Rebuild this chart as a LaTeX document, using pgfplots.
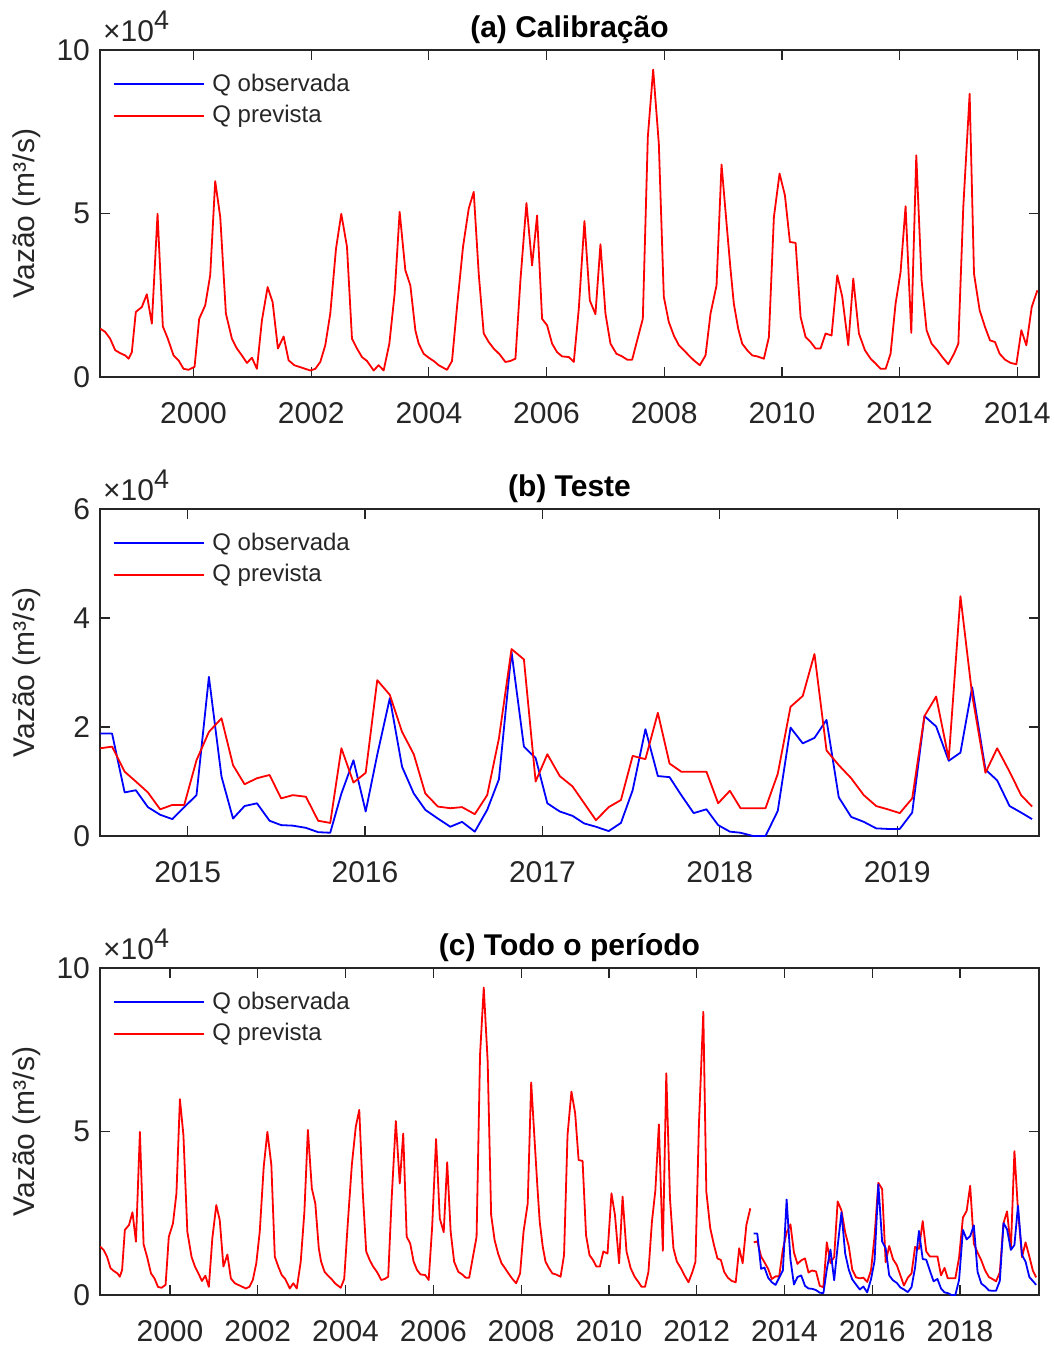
\documentclass[border=0pt]{standalone}
\usepackage{pgfplots}
\pgfplotsset{compat=1.18}
\usepackage{pgfplotstable}
\usepackage{fontspec}
\setmainfont{Liberation Sans}
\definecolor{axgray}{RGB}{38,38,38}

\pgfplotstableread{
t q
1998.413 14800
1998.498 13800
1998.583 11700
1998.668 8200
1998.753 7300
1998.838 6600
1998.895 5600
1998.951 7600
1999.019 19900
1999.121 21400
1999.206 25300
1999.291 16300
1999.388 49900
1999.478 15500
1999.563 11700
1999.660 6600
1999.745 5100
1999.830 2500
1999.915 2200
2000.017 3100
2000.096 17800
2000.198 21900
2000.283 31100
2000.368 59900
2000.454 48900
2000.550 19400
2000.652 11700
2000.737 8700
2000.822 6600
2000.907 4300
2000.992 5900
2001.077 2500
2001.162 17300
2001.259 27500
2001.344 22900
2001.434 8700
2001.531 12400
2001.616 5100
2001.712 3600
2001.797 3100
2001.899 2500
2001.984 2000
2002.069 2500
2002.154 4600
2002.239 9700
2002.324 19400
2002.421 39200
2002.511 49900
2002.608 39800
2002.693 11700
2002.778 8700
2002.863 6100
2002.948 4900
2003.061 2000
2003.146 3600
2003.231 2000
2003.328 10200
2003.418 25500
2003.503 50500
2003.600 32600
2003.685 28000
2003.770 14300
2003.827 10200
2003.912 7100
2003.997 5900
2004.082 4900
2004.167 3600
2004.308 2200
2004.393 4900
2004.478 21400
2004.580 39800
2004.677 51500
2004.762 56600
2004.847 31600
2004.932 13300
2005.017 10700
2005.102 8700
2005.204 6900
2005.300 4600
2005.385 4900
2005.471 5600
2005.556 29600
2005.658 53200
2005.754 34100
2005.839 49400
2005.924 17800
2006.009 15800
2006.094 10200
2006.179 7600
2006.264 6300
2006.378 6100
2006.463 4600
2006.548 20900
2006.644 47700
2006.735 23400
2006.831 19200
2006.916 40600
2007.001 19400
2007.086 10200
2007.188 7100
2007.285 6300
2007.370 5300
2007.455 5300
2007.540 11200
2007.636 17800
2007.721 73400
2007.812 94000
2007.908 71400
2007.993 24500
2008.078 16800
2008.163 12700
2008.248 9700
2008.333 8200
2008.418 6600
2008.503 5100
2008.605 3600
2008.702 6600
2008.787 19400
2008.889 28000
2008.974 65000
2009.059 47000
2009.126 33100
2009.183 22400
2009.257 14800
2009.325 10200
2009.410 8200
2009.495 6600
2009.580 6300
2009.694 5600
2009.779 12200
2009.864 48900
2009.960 62200
2010.051 55600
2010.136 41300
2010.233 41000
2010.318 18300
2010.403 12200
2010.488 10700
2010.572 8700
2010.657 8700
2010.742 13300
2010.844 12700
2010.941 31100
2011.026 24500
2011.128 9700
2011.213 30100
2011.309 13300
2011.411 8200
2011.508 5600
2011.593 4100
2011.678 2500
2011.763 2500
2011.847 7100
2011.932 22400
2012.017 32100
2012.102 52200
2012.199 13500
2012.284 67800
2012.374 29600
2012.459 14300
2012.544 10200
2012.641 8200
2012.726 6100
2012.828 3900
2012.925 7100
2012.999 10200
2013.083 52000
2013.191 86600
2013.265 31600
2013.361 20400
2013.452 15300
2013.537 11200
2013.622 10700
2013.701 7100
2013.792 5300
2013.888 4300
2013.985 3900
2014.070 14300
2014.155 9700
2014.246 21400
2014.342 26500
}\calib

\pgfplotstableread{
t obs prev
2014.508 18800 16100
2014.574 18800 16400
2014.645 8000 11800
2014.708 8400 10000
2014.776 5300 8000
2014.845 3900 4900
2014.914 3100 5700
2014.981 5300 5700
2015.050 7500 13900
2015.120 29200 19100
2015.191 10900 21600
2015.256 3200 13000
2015.321 5500 9500
2015.391 6000 10600
2015.462 2800 11200
2015.527 2000 6900
2015.593 1900 7500
2015.667 1500 7200
2015.736 700 2800
2015.804 600 2400
2015.867 7800 16100
2015.935 13900 9800
2016.004 4500 11600
2016.069 14900 28600
2016.140 25300 25900
2016.209 12700 19100
2016.275 7800 15000
2016.340 4800 7800
2016.411 3200 5400
2016.481 1700 5100
2016.547 2600 5300
2016.619 800 4000
2016.689 4800 7500
2016.755 10400 17900
2016.826 33800 34300
2016.896 16400 32400
2016.962 14300 10000
2017.028 6000 15000
2017.098 4500 11000
2017.170 3700 9100
2017.236 2300 6000
2017.302 1700 2900
2017.374 900 5300
2017.443 2400 6600
2017.509 8400 14700
2017.581 19600 14100
2017.651 11000 22600
2017.717 10800 13300
2017.783 7500 11800
2017.853 4200 11800
2017.925 4900 11800
2017.991 2000 6000
2018.057 800 8300
2018.117 600 5100
2018.188 0 5100
2018.258 0 5100
2018.327 4600 11400
2018.399 19900 23700
2018.468 17000 25700
2018.534 18000 33400
2018.602 21300 15700
2018.671 7100 13000
2018.741 3500 10600
2018.812 2600 7500
2018.882 1400 5500
2018.947 1300 4900
2019.015 1300 4200
2019.085 4300 6900
2019.154 22000 22000
2019.220 20100 25600
2019.291 13800 14100
2019.357 15300 44000
2019.423 27300 25900
2019.498 12200 11600
2019.564 10200 16100
2019.634 5500 11800
2019.699 4300 7500
2019.761 3100 5400
}\teste

\newcommand{\tfont}{\fontsize{15}{18}\selectfont}
\newcommand{\escala}{\node[anchor=base west, inner sep=0pt, font=\tfont, text=axgray] at (rel axis cs:0.003,1.0245) {×10\raisebox{0.8ex}{\fontsize{13.5}{13.5}\selectfont 4}};}

\pgfplotsset{
  painel/.style={
    scale only axis, width=469.5pt, height=163.5pt,
    axis line style={draw=axgray, line width=0.6pt},
    every tick/.style={draw=axgray, line width=0.6pt},
    tick align=inside, major tick length=5pt,
    ticklabel style={font=\tfont, text=axgray},
    xticklabel style={yshift=-9pt},
    yticklabel style={xshift=-1.5pt},
    /pgf/number format/1000 sep={},
    /pgf/number format/assume math mode=true,
    scaled y ticks=false,
    ylabel={Vazão (m³/s)},
    every axis y label/.style={at={(axis description cs:-0.078,0.5)}, rotate=90, anchor=center, font=\tfont, text=axgray},
    every axis title/.style={at={(axis description cs:0.5,1.062)}, anchor=center, font=\bfseries\tfont, text=black},
    legend style={at={(axis description cs:0.013,0.94)}, anchor=north west, draw=none, fill=none, font=\fontsize{12}{14}\selectfont, text=axgray, row sep=1.5pt, inner sep=0pt},
    legend cell align=left,
    legend image code/.code={\draw[#1] (0pt,0pt) -- (45pt,0pt);},
    /tikz/every odd column/.append style={column sep=2pt},
    clip mode=individual,
  },
  serie/.style={line width=0.9pt, line join=round},
}

\begin{document}
\begin{tikzpicture}
\useasboundingbox (0,0) rectangle (527pt,-673.5pt);

% (a)
\begin{axis}[painel, at={(50pt,-188.5pt)}, anchor=south west,
  title={(a) Calibração},
  xmin=1998.41, xmax=2014.37, ymin=0, ymax=100000,
  xtick={2000,2002,...,2014},
  ytick={0,50000,100000}, yticklabels={0,5,10}]
\addlegendimage{blue, serie}
\addlegendentry{Q observada}
\addlegendimage{red, serie}
\addlegendentry{Q prevista}
\addplot[red, serie, forget plot] table[x=t, y=q] {\calib};
\escala
\end{axis}

% (b)
\begin{axis}[painel, at={(50pt,-418pt)}, anchor=south west,
  title={(b) Teste},
  xmin=2014.506, xmax=2019.80, ymin=0, ymax=60000,
  xtick={2015,2016,...,2019},
  ytick={0,20000,40000,60000}, yticklabels={0,2,4,6}]
\addlegendimage{blue, serie}
\addlegendentry{Q observada}
\addlegendimage{red, serie}
\addlegendentry{Q prevista}
\addplot[blue, serie, forget plot] table[x=t, y=obs] {\teste};
\addplot[red, serie, forget plot] table[x=t, y=prev] {\teste};
\escala
\end{axis}

% (c)
\begin{axis}[painel, at={(50pt,-647.5pt)}, anchor=south west,
  title={(c) Todo o período},
  xmin=1998.405, xmax=2019.80, ymin=0, ymax=100000,
  xtick={2000,2002,...,2018},
  ytick={0,50000,100000}, yticklabels={0,5,10}]
\addlegendimage{blue, serie}
\addlegendentry{Q observada}
\addlegendimage{red, serie}
\addlegendentry{Q prevista}
\addplot[red, serie, forget plot] table[x expr={1998.405+0.930*(\thisrow{t}-1998.41)}, y=q] {\calib};
\addplot[red, serie, forget plot] table[x expr={2013.30+1.225*(\thisrow{t}-2014.508)}, y=prev] {\teste};
\addplot[blue, serie, forget plot] table[x expr={2013.30+1.225*(\thisrow{t}-2014.508)}, y=obs] {\teste};
\escala
\end{axis}
\end{tikzpicture}
\end{document}
